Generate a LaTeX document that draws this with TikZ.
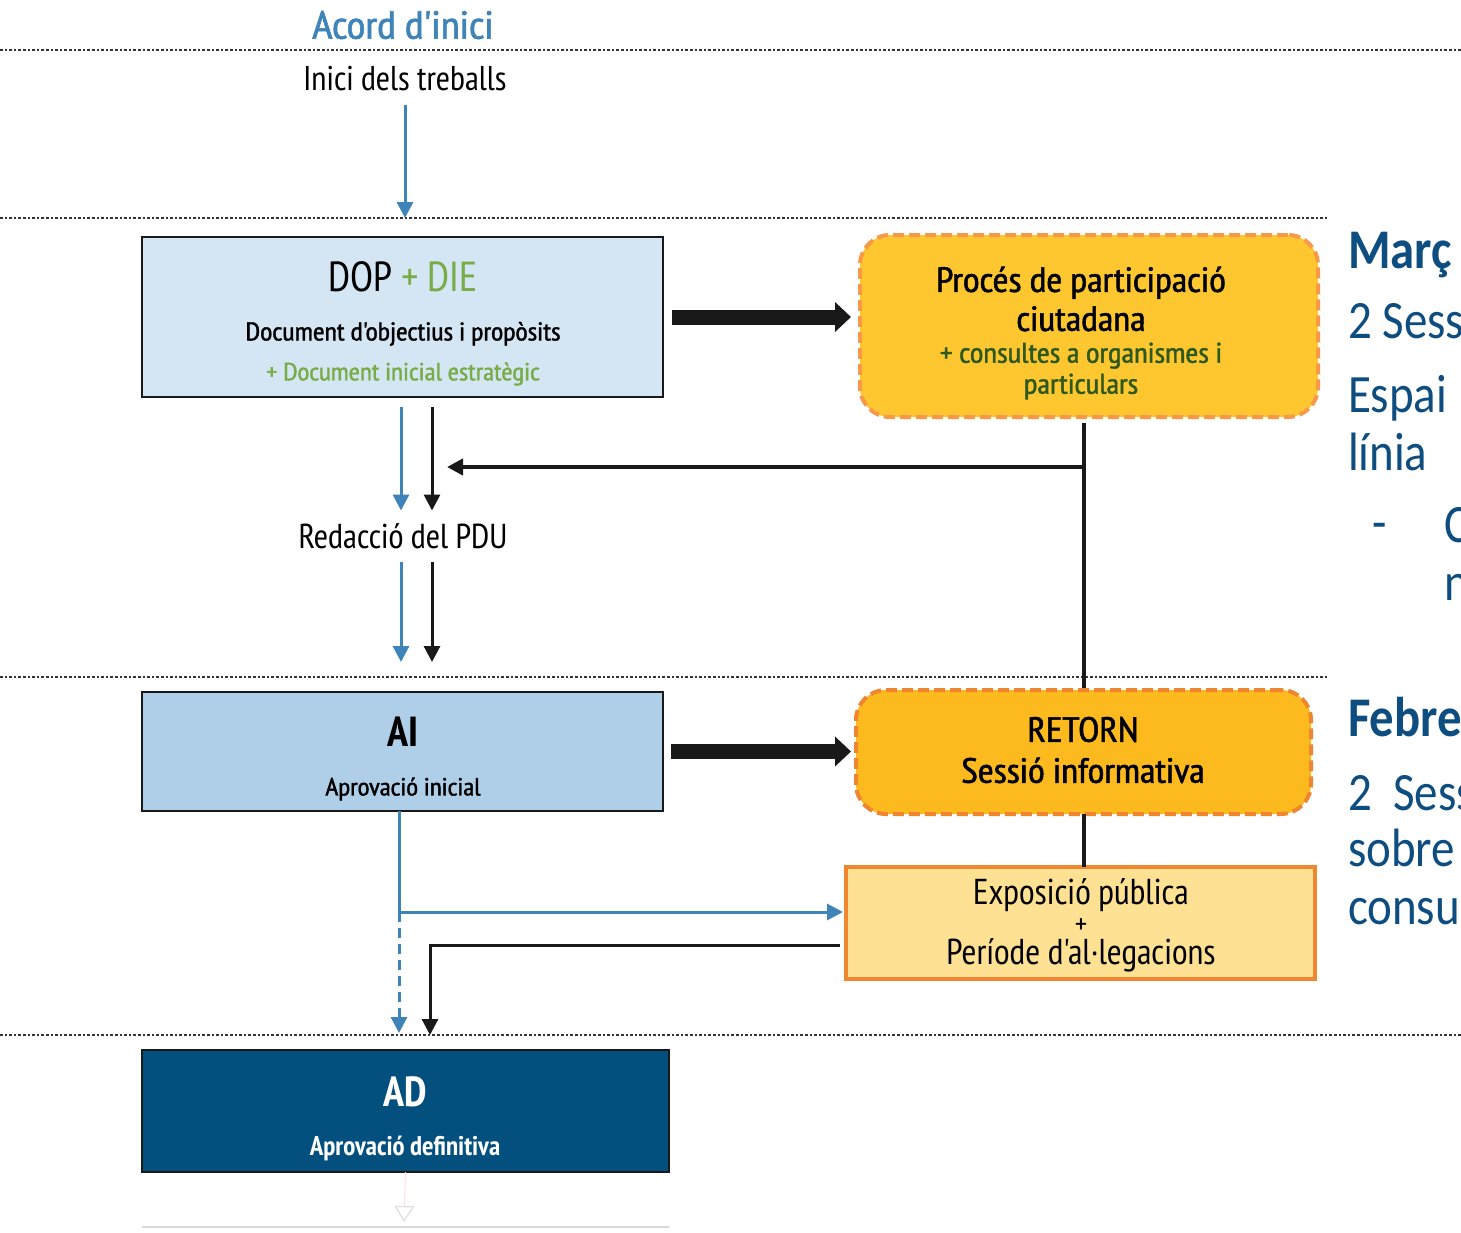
\documentclass[tikz,border=0pt]{standalone}
\usepackage{fontspec}
\setmainfont{PT Sans Narrow}[Ligatures=TeXOff]
\newfontfamily\medfont{PT Sans Narrow}[Ligatures=TeXOff, FakeBold=1.5, FakeStretch=1.1]
\newfontfamily\sidefont[FakeStretch=0.87]{Carlito}
\usetikzlibrary{arrows.meta,calc,positioning}
\definecolor{linkblue}{RGB}{63,132,185}
\definecolor{navy}{RGB}{14,77,128}
\definecolor{diegreen}{RGB}{120,172,70}
\definecolor{darkgreen}{RGB}{46,88,30}
\definecolor{dopfill}{RGB}{212,230,244}
\definecolor{aifill}{RGB}{175,207,232}
\definecolor{procfill}{RGB}{254,199,47}
\definecolor{procline}{RGB}{248,153,74}
\definecolor{retfill}{RGB}{253,186,30}
\definecolor{retline}{RGB}{240,133,47}
\definecolor{expofill}{RGB}{255,225,148}
\definecolor{expoline}{RGB}{240,134,46}
\definecolor{adfill}{RGB}{3,80,126}
\newcommand{\fsz}[2]{\fontsize{#1}{#2}\selectfont}

\begin{document}
\begin{tikzpicture}[x=0.5pt, y=-0.5pt,
  every node/.style={inner sep=0pt, outer sep=0pt, align=center},
  phaseline/.style={black!80, line width=1.2pt, dash pattern=on 1.3pt off 1pt},
  bluearr/.style={linkblue, line width=1.5pt, -{Triangle[length=8pt,width=8pt]}},
  blackarr/.style={black!90, line width=1.5pt, -{Triangle[length=8pt,width=8pt]}},
  bigarr/.style={black!90, line width=7.5pt, -{Triangle[length=8pt,width=14.5pt]}},
  stepbox/.style={draw=black!90, line width=1pt, minimum width=260.5pt},
  partbox/.style={rounded corners=15pt, line width=2pt, dash pattern=on 5.5pt off 2.5pt},
  sidetext/.style={anchor=base west, text=navy, font=\sidefont\fsz{27pt}{29pt}}]
  \useasboundingbox (0,0) rectangle (1461,1232);
  \fill[white] (0,0) rectangle (1461,1232);

  % phase separators
  \coordinate (l0) at (0,50);
  \coordinate (l1) at (0,218);
  \coordinate (l2) at (0,677);
  \coordinate (l3) at (0,1035);
  \draw[phaseline] (l0) -- ++(1461,0);
  \draw[phaseline] (l1) -- ++(1328,0);
  \draw[phaseline] (l2) -- ++(1328,0);
  \draw[phaseline] (l3) -- ++(1461,0);

  % left column
  \node[text=linkblue, font=\medfont\fsz{19.6pt}{24pt}] (acord) at (403,25) {Acord d'inici};
  \node[font=\fsz{17.2pt}{19pt}, minimum height=26pt] (inici) at (405,79) {Inici dels treballs};

  \node[stepbox, fill=dopfill, minimum height=80pt] (dop) at (402.5,317) {};
  \node[font=\fsz{21pt}{24pt}] (doptitle) at (403,277) {DOP \textcolor{diegreen}{+ DIE}};
  \node[font=\medfont\fsz{12.8pt}{16pt}] (dopsub) at (403,334) {Document d'objectius i propòsits};
  \node[text=diegreen, font=\medfont\fsz{12.4pt}{16pt}] (diesub) at (403,374) {+ Document inicial estratègic};

  \node[font=\fsz{17.3pt}{19pt}, minimum height=25.5pt] (pdu) at (403,536) {Redacció del PDU};

  \node[stepbox, fill=aifill, minimum height=59.5pt] (ai) at (402.5,751.5) {};
  \node[font=\bfseries\fsz{21pt}{24pt}] (aititle) at (403,732) {AI};
  \node[font=\medfont\fsz{12.4pt}{16pt}] (aisub) at (403,789) {Aprovació inicial};

  \node[stepbox, minimum width=263.5pt, fill=adfill, minimum height=61pt] (ad) at (405.5,1111) {};
  \node[text=white, font=\bfseries\fsz{21pt}{24pt}] (adtitle) at (405,1092) {AD};
  \node[text=white, font=\bfseries\fsz{13.5pt}{16pt}] (adsub) at (405,1148) {Aprovació definitiva};

  % participation column
  \node[partbox, draw=procline, fill=procfill, minimum width=229pt, minimum height=91pt] (proc) at (1089,326) {};
  \node[font=\medfont\fsz{17.5pt}{19.5pt}] (proctitle) at (1081,299) {Procés de participació\\ciutadana};
  \node[text=darkgreen, font=\medfont\fsz{14.2pt}{15.5pt}] (procsub) at (1081,371) {+ consultes a organismes i\\particulars};

  \node[partbox, draw=retline, fill=retfill, minimum width=227.5pt, minimum height=62pt] (ret) at (1083.5,752) {};
  \node[font=\medfont\fsz{17.5pt}{20.5pt}] (rettext) at (1083,750) {RETORN\\Sessió informativa};

  \node[draw=expoline, line width=2pt, fill=expofill, minimum width=234.5pt, minimum height=56pt] (expo) at (1080.5,923) {};
  \node[font=\fsz{18pt}{15pt}] (expotext) at (1081,925) {Exposició pública\\{\fsz{15pt}{15pt}+}\\Període d'al·legacions};

  % connectors
  \coordinate (bcol) at (401,0);
  \coordinate (kcol) at (432,0);
  \coordinate (fb) at (0,467);
  \coordinate (split) at (399,912);
  \coordinate (back) at (430,945);
  \coordinate (foot) at (0,1227);
  \coordinate (faintend) at (404,1222);

  \draw[bluearr] (inici) -- (inici |- l1);
  \draw[bigarr, shorten <=4.5pt, shorten >=4.5pt] (dop.east) -- (dop.east -| proc.west);
  \draw[bigarr, shorten <=4pt, shorten >=2.5pt] (ai.east) -- (ai.east -| ret.west);

  \draw[bluearr, shorten <=5pt] (bcol |- dop.south) -- (bcol |- pdu.north);
  \draw[blackarr, shorten <=5pt] (kcol |- dop.south) -- (kcol |- pdu.north);
  \draw[bluearr, shorten >=15pt] (bcol |- pdu.south) -- (bcol |- ai.north);
  \draw[blackarr, shorten >=15pt] (kcol |- pdu.south) -- (kcol |- ai.north);

  \draw[black!90, line width=2pt, shorten <=3pt, shorten >=1pt] (proc.south -| ret.north) -- (ret.north);
  \draw[blackarr, line width=2pt, shorten >=7.5pt] (ret.north |- fb) -- (kcol |- fb);
  \draw[black!90, line width=2pt] (ret.south) -- (ret.south |- expo.north);

  \draw[bluearr, shorten >=1.5pt] (ai.south -| split) -- (split) -- (split -| expo.west);
  \draw[bluearr, dash pattern=on 5pt off 3pt, shorten >=1pt] (split) -- (split |- l3);
  \draw[blackarr, shorten <=3pt] (back -| expo.west) -- (back) -- (back |- l3);

  \draw[red!10, line width=0.6pt, -{Triangle[open, length=8pt, width=10pt, color=gray!25]}] (ad.south) -- (faintend);
  \draw[gray!30, line width=1pt] (ad.west |- foot) -- (ad.east |- foot);

  % side notes, cut at the page edge
  \begin{scope}
    \clip (0,0) rectangle (1461,1232);
    \node[sidetext, font=\sidefont\bfseries\fsz{28pt}{30pt}] (marc) at (1348,268) {Març};
    \node[sidetext] (marcA) at (1348,338) {2 Sessi};
    \node[sidetext] (marcB) at (1348,412) {Espai};
    \node[sidetext] (marcC) at (1348,470) {línia};
    \node[sidetext] (marcD) at (1372,540) {-};
    \node[sidetext] (marcE) at (1444,542) {C};
    \node[sidetext] (marcF) at (1444,600) {n};
    \node[sidetext, font=\sidefont\bfseries\fsz{28pt}{30pt}] (febrer) at (1348,736) {Febrer};
    \node[sidetext] (febA) at (1348,810) {2\ \ Sessi};
    \node[sidetext] (febB) at (1348,866) {sobre};
    \node[sidetext] (febC) at (1348,924) {consul};
  \end{scope}
\end{tikzpicture}
\end{document}
